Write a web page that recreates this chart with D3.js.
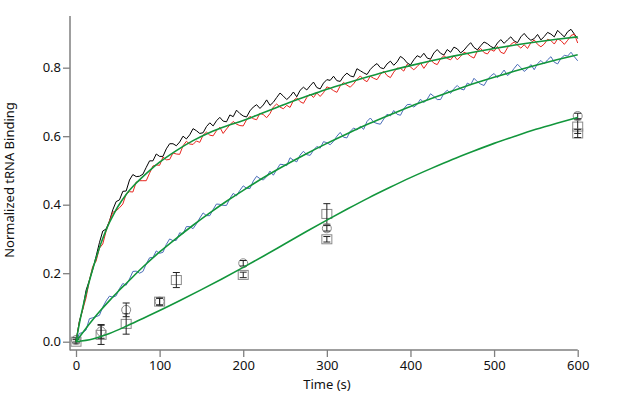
<!DOCTYPE html>
<html><head><meta charset="utf-8">
<script src="https://cdn.jsdelivr.net/npm/d3@7"></script>
<style>body{margin:0;background:#fff}svg{display:block}text{font-family:"Noto Sans","DejaVu Sans",sans-serif;}</style>
</head><body><svg id="c" width="617" height="394"></svg>
<script>
// noisy traces sampled every 4 s from 0 to 600 s
const traceStep = 4;
const blackTrace = [
0,0.059,0.095,0.15,0.179,0.211,0.249,0.289,0.323,0.329,
0.352,0.385,0.409,0.414,0.439,0.44,0.472,0.488,0.482,0.483,
0.489,0.509,0.528,0.528,0.548,0.541,0.541,0.563,0.578,0.578,
0.572,0.583,0.6,0.592,0.604,0.622,0.616,0.608,0.61,0.628,
0.639,0.63,0.645,0.655,0.644,0.642,0.662,0.657,0.676,0.666,
0.659,0.656,0.674,0.685,0.692,0.681,0.691,0.706,0.69,0.699,
0.713,0.726,0.717,0.707,0.716,0.729,0.715,0.734,0.743,0.735,
0.747,0.758,0.742,0.738,0.755,0.765,0.763,0.775,0.762,0.76,
0.775,0.784,0.776,0.773,0.797,0.791,0.785,0.78,0.795,0.805,
0.812,0.8,0.797,0.811,0.819,0.807,0.817,0.833,0.826,0.814,
0.808,0.823,0.835,0.83,0.842,0.828,0.825,0.843,0.853,0.842,
0.837,0.853,0.845,0.86,0.855,0.843,0.851,0.863,0.873,0.859,
0.852,0.864,0.875,0.87,0.862,0.857,0.872,0.882,0.871,0.881,
0.89,0.878,0.873,0.89,0.9,0.888,0.88,0.885,0.897,0.881,
0.891,0.903,0.898,0.89,0.909,0.899,0.89,0.905,0.912,0.898,
0.885];
const redTrace = [
0,0.058,0.093,0.128,0.179,0.22,0.235,0.273,0.285,0.323,
0.352,0.378,0.382,0.391,0.402,0.431,0.438,0.437,0.466,0.47,
0.47,0.47,0.492,0.513,0.516,0.515,0.539,0.531,0.532,0.551,
0.548,0.547,0.572,0.585,0.577,0.576,0.586,0.582,0.603,0.612,
0.603,0.601,0.616,0.626,0.608,0.621,0.633,0.643,0.635,0.631,
0.63,0.648,0.658,0.651,0.648,0.667,0.663,0.654,0.666,0.685,
0.694,0.685,0.68,0.69,0.684,0.704,0.712,0.701,0.696,0.713,
0.723,0.713,0.726,0.716,0.727,0.744,0.74,0.733,0.728,0.747,
0.757,0.749,0.743,0.753,0.766,0.776,0.765,0.759,0.775,0.769,
0.765,0.78,0.79,0.777,0.771,0.787,0.799,0.798,0.79,0.81,
0.802,0.794,0.803,0.814,0.798,0.812,0.824,0.813,0.809,0.826,
0.835,0.827,0.823,0.835,0.823,0.833,0.845,0.841,0.833,0.828,
0.849,0.856,0.844,0.84,0.853,0.848,0.862,0.845,0.841,0.858,
0.868,0.875,0.866,0.857,0.867,0.856,0.873,0.881,0.868,0.861,
0.869,0.883,0.879,0.869,0.884,0.879,0.868,0.88,0.894,0.898,
0.872];
const blueTrace = [
0,0.024,0.027,0.034,0.067,0.07,0.073,0.077,0.101,0.119,
0.133,0.13,0.134,0.155,0.17,0.165,0.183,0.205,0.206,0.2,
0.205,0.227,0.245,0.246,0.265,0.258,0.261,0.284,0.3,0.295,
0.296,0.318,0.315,0.336,0.336,0.33,0.344,0.361,0.376,0.368,
0.368,0.386,0.402,0.401,0.398,0.398,0.418,0.433,0.426,0.442,
0.455,0.448,0.447,0.469,0.483,0.476,0.472,0.482,0.498,0.486,
0.502,0.518,0.517,0.514,0.537,0.53,0.525,0.545,0.556,0.546,
0.544,0.559,0.57,0.565,0.584,0.581,0.575,0.585,0.6,0.611,
0.597,0.595,0.614,0.624,0.618,0.629,0.62,0.643,0.653,0.641,
0.637,0.635,0.65,0.664,0.659,0.675,0.664,0.661,0.68,0.692,
0.693,0.685,0.693,0.708,0.698,0.708,0.724,0.716,0.707,0.707,
0.725,0.734,0.725,0.739,0.748,0.738,0.735,0.755,0.75,0.769,
0.759,0.752,0.748,0.765,0.776,0.783,0.771,0.78,0.793,0.777,
0.785,0.798,0.81,0.8,0.789,0.797,0.809,0.794,0.812,0.821,
0.811,0.823,0.832,0.816,0.811,0.827,0.836,0.834,0.845,0.832,
0.82];

// fitted curves
const fastFitT = [0,5,10,15,20,25,30,35,40,45,50,60,70,80,90,100,120,140,160,180,200,220,240,260,280,300,325,350,375,400,425,450,475,500,525,550,575,600];
const fastFitV = [0,0.065,0.12,0.168,0.212,0.252,0.288,0.32,0.348,0.372,0.394,0.43,0.458,0.482,0.504,0.524,0.558,0.587,0.611,0.63,0.646,0.665,0.684,0.703,0.72,0.737,0.756,0.774,0.791,0.806,0.82,0.833,0.845,0.856,0.866,0.875,0.883,0.89];
const blueFitT = [0,10,20,30,40,50,60,80,100,120,140,160,180,200,225,250,275,300,325,350,375,400,425,450,475,500,525,550,575,600];
const blueFitV = [0,0.033,0.064,0.093,0.12,0.146,0.17,0.218,0.262,0.302,0.34,0.376,0.41,0.442,0.48,0.515,0.548,0.579,0.608,0.636,0.662,0.687,0.71,0.732,0.753,0.772,0.79,0.807,0.823,0.838];
const slowFitT = [0,20,40,60,80,100,125,150,175,200,225,250,275,300,325,350,375,400,425,450,475,500,525,550,575,600];
const slowFitV = [0,0.008,0.024,0.045,0.068,0.091,0.121,0.152,0.184,0.217,0.251,0.286,0.321,0.355,0.388,0.42,0.45,0.479,0.506,0.532,0.556,0.579,0.6,0.62,0.638,0.655];

// discrete measurements
const circleT = [0,30,60,100,200,300,600];
const circleV = [0.005,0.03,0.093,0.117,0.229,0.331,0.659];
const circleErr = [0.006,0.02,0.02,0.01,0.008,0.008,0.008];
const squareT = [0,30,60,100,120,200,300,300,600,600];
const squareV = [0,0.02,0.052,0.117,0.18,0.195,0.373,0.299,0.628,0.608];
const squareErr = [0.006,0.028,0.03,0.01,0.022,0.008,0.03,0.008,0.02,0.012];

const xTicks = [0,100,200,300,400,500,600];
const yTicks = [0,0.2,0.4,0.6,0.8];

const svg = d3.select("#c");
const x = d3.scaleLinear().domain([0,600]).range([76,577.7]);
const y = d3.scaleLinear().domain([0,0.95]).range([341.7,16.3]);
const axisColor = "#7f7f7f";

const gy = svg.append("g").attr("transform","translate(70,0)")
  .call(d3.axisLeft(y).tickValues(yTicks).tickFormat(d3.format(".1f")).tickSize(7).tickSizeOuter(0));
const gx = svg.append("g").attr("transform","translate(0,350)")
  .call(d3.axisBottom(x).tickValues(xTicks).tickFormat(d3.format("d")).tickSize(7).tickSizeOuter(0));
[gx,gy].forEach(g=>{
  g.select(".domain").remove();
  g.selectAll(".tick line").attr("stroke",axisColor).attr("stroke-width",1.3);
  g.selectAll(".tick text").attr("fill","#111").attr("font-size",13);
});
gy.selectAll(".tick text").attr("x",-9);
gx.selectAll(".tick text").attr("y",11);
svg.append("line").attr("x1",70).attr("x2",70).attr("y1",16).attr("y2",350.6).attr("stroke",axisColor).attr("stroke-width",1.5);
svg.append("line").attr("x1",70).attr("x2",x(600)).attr("y1",350).attr("y2",350).attr("stroke",axisColor).attr("stroke-width",1.5);

svg.append("text").attr("x",327).attr("y",389).attr("text-anchor","middle").attr("font-size",13).attr("fill","#111").text("Time (s)");
svg.append("text").attr("transform","translate(14,180) rotate(-90)").attr("text-anchor","middle").attr("font-size",13).attr("fill","#111").text("Normalized tRNA Binding");

const line = d3.line().x(d=>x(d[0])).y(d=>y(d[1]));
function tracePts(arr){ return arr.map((v,i)=>[i*traceStep, v]); }
function pairPts(ts, vs){ return ts.map((t,i)=>[t, vs[i]]); }

const mk = svg.append("g");
function errBar(t,v,e){
  const cx = x(t), y1 = y(v+e), y2 = y(v-e);
  mk.append("line").attr("x1",cx).attr("x2",cx).attr("y1",y1).attr("y2",y2).attr("stroke","#222").attr("stroke-width",1);
  [y1,y2].forEach(yy=>mk.append("line").attr("x1",cx-3.5).attr("x2",cx+3.5).attr("y1",yy).attr("y2",yy).attr("stroke","#222").attr("stroke-width",1));
}
squareT.forEach((t,i)=>{
  mk.append("rect").attr("x",x(t)-5).attr("y",y(squareV[i])-4.5).attr("width",10).attr("height",9)
    .attr("fill","none").attr("stroke","#8a8a8a").attr("stroke-width",1);
  errBar(t,squareV[i],squareErr[i]);
});
circleT.forEach((t,i)=>{
  mk.append("circle").attr("cx",x(t)).attr("cy",y(circleV[i])).attr("r",4.5)
    .attr("fill","none").attr("stroke","#8a8a8a").attr("stroke-width",1);
  errBar(t,circleV[i],circleErr[i]);
});

svg.append("path").datum(tracePts(blueTrace)).attr("d",line).attr("fill","none").attr("stroke","#4a6cb8").attr("stroke-width",1);
svg.append("path").datum(tracePts(blackTrace)).attr("d",line).attr("fill","none").attr("stroke","#000").attr("stroke-width",1);
svg.append("path").datum(tracePts(redTrace)).attr("d",line).attr("fill","none").attr("stroke","#e8261f").attr("stroke-width",1);

const green = "#12963c";
const smooth = d3.line().x(d=>x(d[0])).y(d=>y(d[1])).curve(d3.curveMonotoneX);
[[fastFitT,fastFitV],[blueFitT,blueFitV],[slowFitT,slowFitV]].forEach(([t,v])=>{
  svg.append("path").datum(pairPts(t,v)).attr("d",smooth).attr("fill","none").attr("stroke",green).attr("stroke-width",1.6);
});
</script></body></html>
